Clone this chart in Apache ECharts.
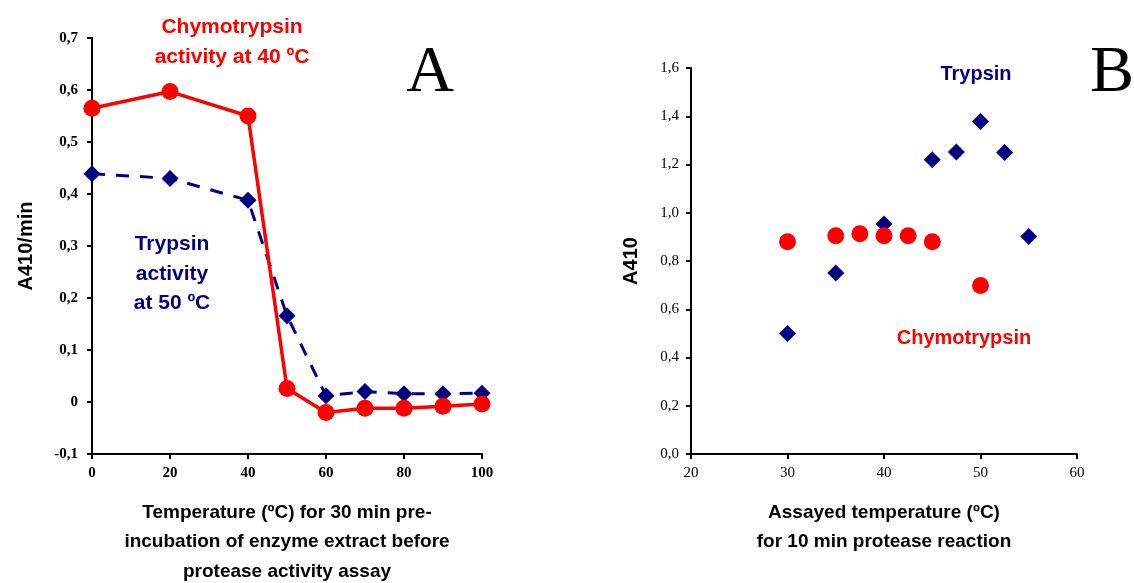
<!DOCTYPE html>
<html>
<head>
<meta charset="utf-8">
<script src="https://cdn.jsdelivr.net/npm/echarts@6/dist/echarts.min.js"></script>
<style>
  html, body { margin: 0; padding: 0; background: #fff; }
  #chart { width: 1134px; height: 583px; }
</style>
</head>
<body>
<div id="chart"></div>
<script>
// Panel A: pre-incubation temperature vs activity
const preTemps = [0, 20, 40, 50, 60, 70, 80, 90, 100];
const chymoActivity = [0.565, 0.597, 0.55, 0.026, -0.02, -0.012, -0.012, -0.008, -0.004];
const trypsinActivity = [0.439, 0.43, 0.388, 0.166, 0.012, 0.02, 0.016, 0.016, 0.017];

// Panel B: assayed temperature vs A410
const trypsinTemps = [30, 35, 40, 45, 47.5, 50, 52.5, 55];
const trypsinA410 = [0.5, 0.75, 0.953, 1.22, 1.252, 1.378, 1.25, 0.902];
const chymoTemps = [30, 35, 37.5, 40, 42.5, 45, 50];
const chymoA410 = [0.88, 0.905, 0.913, 0.905, 0.905, 0.88, 0.698];

const RED = '#ff0000';
const NAVY = '#000080';
const SANS = '"Liberation Sans", Arial, sans-serif';
const SERIF = '"Liberation Serif", "Times New Roman", serif';

const pairs = (xs, ys) => xs.map((x, i) => [x, ys[i]]);
const comma = (v, d) => v.toFixed(d).replace('.', ',');

const chart = echarts.init(document.getElementById('chart'));

const axisLine = { onZero: false, lineStyle: { color: '#000', width: 2 } };
const axisTick = { length: 5, lineStyle: { color: '#000', width: 2 } };

const option = {
  backgroundColor: '#fff',
  animation: false,
  grid: [
    { left: 92, top: 38, width: 390, height: 416, outerBoundsMode: 'none' },
    { left: 691, top: 68, width: 386, height: 386, outerBoundsMode: 'none' },
  ],
  xAxis: [
    {
      gridIndex: 0, type: 'value', min: 0, max: 100, interval: 20,
      axisLine, axisTick, splitLine: { show: false },
      axisLabel: { margin: 12, color: '#000', fontFamily: SERIF, fontWeight: 'bold', fontSize: 15 },
      name: 'Temperature (ºC) for 30 min pre-\nincubation of enzyme extract before\nprotease activity assay',
      nameLocation: 'middle', nameGap: 44,
      nameTextStyle: { color: '#000', fontFamily: SANS, fontWeight: 'bold', fontSize: 19, lineHeight: 29.5 },
    },
    {
      gridIndex: 1, type: 'value', min: 20, max: 60, interval: 10,
      axisLine, axisTick, splitLine: { show: false },
      axisLabel: { margin: 12, color: '#000', fontFamily: SERIF, fontSize: 15 },
      name: 'Assayed temperature (ºC)\nfor 10 min protease reaction',
      nameLocation: 'middle', nameGap: 44,
      nameTextStyle: { color: '#000', fontFamily: SANS, fontWeight: 'bold', fontSize: 19, lineHeight: 29.5 },
    },
  ],
  yAxis: [
    {
      gridIndex: 0, type: 'value', min: -0.1, max: 0.7, interval: 0.1,
      axisLine, axisTick, splitLine: { show: false },
      axisLabel: {
        margin: 14, color: '#000', fontFamily: SERIF, fontWeight: 'bold', fontSize: 15,
        formatter: (v) => (Math.abs(v) < 1e-9 ? '0' : comma(v, 1)),
      },
      name: 'A410/min', nameLocation: 'middle', nameGap: 56,
      nameTextStyle: { color: '#000', fontFamily: SANS, fontWeight: 'bold', fontSize: 20 },
    },
    {
      gridIndex: 1, type: 'value', min: 0, max: 1.6, interval: 0.2,
      axisLine, axisTick, splitLine: { show: false },
      axisLabel: {
        margin: 12, color: '#000', fontFamily: SERIF, fontSize: 15,
        formatter: (v) => comma(v, 1),
      },
      name: 'A410', nameLocation: 'middle', nameGap: 50,
      nameTextStyle: { color: '#000', fontFamily: SANS, fontWeight: 'bold', fontSize: 20 },
    },
  ],
  series: [
    {
      name: 'Trypsin A', type: 'line', xAxisIndex: 0, yAxisIndex: 0,
      data: pairs(preTemps, trypsinActivity),
      symbol: 'diamond', symbolSize: 17,
      itemStyle: { color: NAVY },
      lineStyle: { color: NAVY, width: 3, type: [13, 11] },
      z: 2,
    },
    {
      name: 'Chymotrypsin A', type: 'line', xAxisIndex: 0, yAxisIndex: 0,
      data: pairs(preTemps, chymoActivity),
      symbol: 'circle', symbolSize: 17,
      itemStyle: { color: RED },
      lineStyle: { color: RED, width: 3.5 },
      z: 3,
    },
    {
      name: 'Trypsin B', type: 'scatter', xAxisIndex: 1, yAxisIndex: 1,
      data: pairs(trypsinTemps, trypsinA410),
      symbol: 'diamond', symbolSize: 17,
      itemStyle: { color: NAVY, opacity: 1 },
    },
    {
      name: 'Chymotrypsin B', type: 'scatter', xAxisIndex: 1, yAxisIndex: 1,
      data: pairs(chymoTemps, chymoA410),
      symbol: 'circle', symbolSize: 17,
      itemStyle: { color: RED, opacity: 1 },
      z: 3,
    },
  ],
  graphic: [
    {
      type: 'text',
      style: {
        text: 'Chymotrypsin\nactivity at 40 ºC', fill: RED, font: 'bold 21px ' + SANS,
        align: 'center', verticalAlign: 'middle', lineHeight: 30,
      },
      x: 232, y: 42,
    },
    {
      type: 'text',
      style: {
        text: 'Trypsin\nactivity\nat 50 ºC', fill: NAVY, font: 'bold 21px ' + SANS,
        align: 'center', verticalAlign: 'middle', lineHeight: 29.5,
      },
      x: 172, y: 274,
    },
    {
      type: 'text',
      style: { text: 'Trypsin', fill: NAVY, font: 'bold 20px ' + SANS, align: 'center', verticalAlign: 'middle' },
      x: 976, y: 74,
    },
    {
      type: 'text',
      style: { text: 'Chymotrypsin', fill: RED, font: 'bold 20px ' + SANS, align: 'center', verticalAlign: 'middle' },
      x: 964, y: 338,
    },
    {
      type: 'text',
      style: { text: 'A', fill: '#000', font: '66px ' + SERIF, align: 'center', verticalAlign: 'middle' },
      x: 430, y: 74,
    },
    {
      type: 'text',
      style: { text: 'B', fill: '#000', font: '66px ' + SERIF, align: 'center', verticalAlign: 'middle' },
      x: 1112, y: 74,
    },
  ],
};

chart.setOption(option);
</script>
</body>
</html>
